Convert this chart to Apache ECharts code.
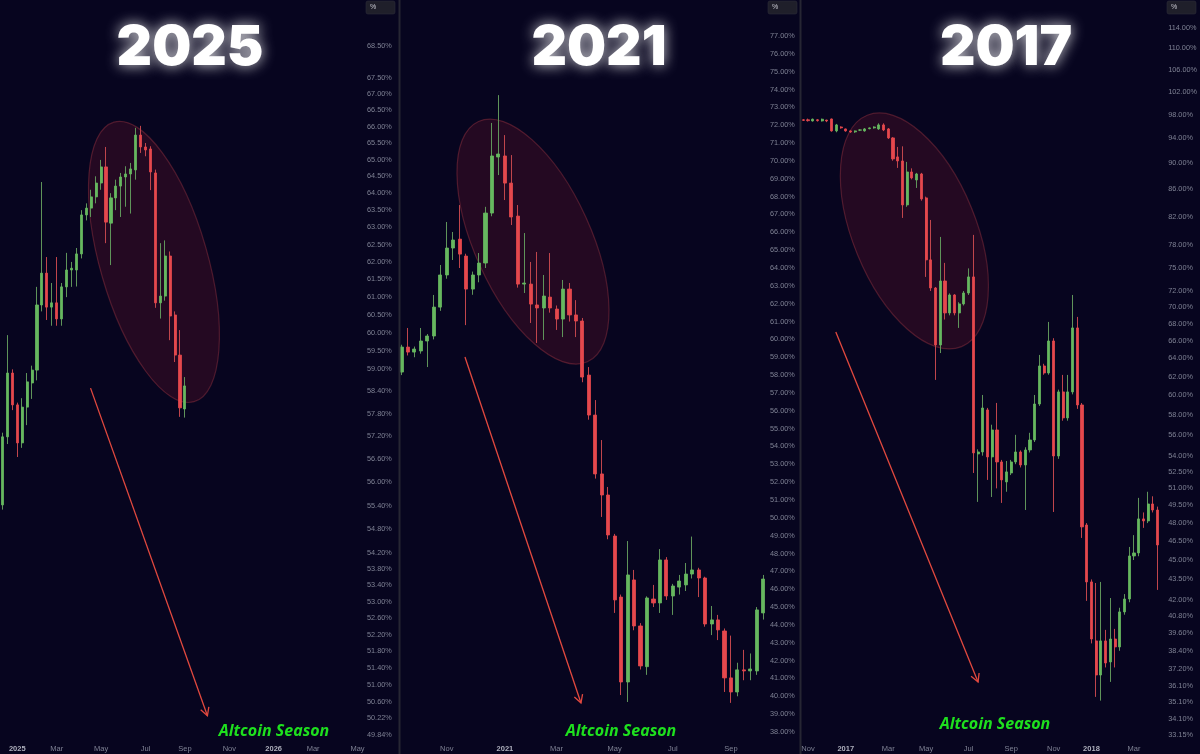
<!DOCTYPE html>
<html><head><meta charset="utf-8">
<script src="https://cdn.jsdelivr.net/npm/echarts@6/dist/echarts.min.js"></script>
<style>html,body{margin:0;padding:0;background:#07051f;overflow:hidden}#c{width:1200px;height:754px}</style>
</head><body><div id="c"></div>
<script>
// ---------- data ----------
const panelTitles = ['2025', '2021', '2017'];
const noteText = 'Altcoin Season';
const p1Start = '2024-12-16', p1Weeks = 73;
const p2Start = '2020-09-14', p2Weeks = 57;
const p3Start = '2016-10-31', p3Weeks = 77;
const monthNames = ['Jan','Feb','Mar','Apr','May','Jun','Jul','Aug','Sep','Oct','Nov','Dec'];

// weekly candles [open, close, low, high] (%)
const p1Candles = [
[55.42,57.19,55.30,57.30],[57.19,58.90,57.00,59.94],[58.90,58.04,57.90,59.00],[58.04,57.03,56.66,58.10],
[57.03,57.98,56.90,58.22],[57.98,58.66,57.50,58.90],[58.63,58.98,58.20,59.10],[58.98,60.78,58.70,61.29],
[60.78,61.68,60.60,64.33],[61.68,60.72,60.36,62.14],[60.72,60.84,60.20,61.40],[60.84,60.39,60.20,62.14],
[60.39,61.29,60.20,61.40],[61.29,61.77,61.00,62.26],[61.77,61.82,61.29,62.00],[61.77,62.23,61.30,62.40],
[62.23,63.36,62.10,63.50],[63.36,63.56,63.20,63.70],[63.56,63.89,63.30,64.10],[63.89,64.30,63.70,64.50],
[64.30,64.78,64.10,64.99],[64.78,63.15,62.54,65.38],[63.12,63.86,61.91,64.00],[63.86,64.21,63.50,64.40],
[64.21,64.48,63.30,64.60],[64.48,64.57,63.60,64.80],[64.57,64.72,63.40,64.90],[64.69,65.74,64.40,65.96],
[65.74,65.38,65.20,66.02],[65.38,65.29,65.10,65.50],[65.32,64.63,64.09,65.40],[64.60,60.84,60.70,64.70],
[60.84,61.03,60.40,62.54],[61.03,62.17,60.90,62.62],[62.17,60.47,59.80,62.30],[60.50,59.39,59.20,60.60],
[59.39,57.96,57.72,60.08],[57.93,58.55,57.70,58.79]
];
const p2Candles = [
[58.17,59.57,58.00,59.70],[59.57,59.29,59.10,60.64],[59.29,59.46,59.00,59.60],[59.35,59.91,59.20,60.64],
[59.91,60.19,58.45,60.30],[60.19,61.81,60.00,62.49],[61.81,63.61,61.60,64.17],[63.61,65.12,63.40,66.58],
[65.12,65.57,64.45,66.02],[65.62,64.78,64.00,67.53],[64.67,62.82,60.80,64.80],[62.82,63.61,62.50,63.80],
[63.61,64.28,63.20,64.84],[64.28,67.08,64.00,67.43],[67.08,70.28,66.90,72.13],[70.22,70.39,69.21,73.69],
[70.28,68.76,67.81,71.45],[68.76,66.86,66.41,70.33],[66.91,63.10,62.90,67.53],[63.10,63.16,62.60,65.96],
[63.10,61.98,60.92,64.34],[61.93,61.76,59.80,64.90],[61.76,62.43,59.97,63.61],[62.37,61.76,61.50,64.84],
[61.70,61.14,60.53,61.90],[61.14,62.82,60.13,63.33],[62.82,61.37,61.00,63.16],[61.37,61.03,60.13,62.20],
[61.03,57.89,57.60,61.20],[58.00,55.76,55.50,58.45],[55.76,52.46,52.20,56.60],[52.46,51.28,50.05,54.36],
[51.28,49.04,48.80,51.73],[48.98,45.40,44.67,49.10],[45.56,40.80,40.07,45.70],[40.80,46.80,39.68,48.70],
[46.52,43.94,43.70,47.08],[43.94,41.70,41.50,44.10],[41.66,45.51,41.20,45.60],[45.45,45.23,45.00,46.24],
[45.23,47.64,44.67,48.25],[47.64,45.62,45.40,47.80],[45.62,46.18,44.56,46.30],[46.12,46.46,45.70,46.80],
[46.24,46.85,45.90,47.47],[46.85,47.08,46.60,48.95],[47.08,46.63,45.56,47.20],[46.63,44.05,43.90,46.70],
[44.05,44.28,43.43,45.06],[44.28,43.72,43.15,44.56],[43.66,41.03,40.24,43.80],[41.03,40.24,39.63,43.40],
[40.24,41.48,40.00,41.88],[41.48,41.42,40.90,42.60],[41.42,41.53,40.90,42.40],[41.42,44.84,41.20,45.00],
[44.67,46.57,44.30,46.80]
];
const p3Candles = [
[97.10,97.00,96.90,97.20],[97.10,96.95,96.80,97.30],[96.90,97.20,96.80,97.30],[97.10,96.95,96.80,97.20],
[96.90,97.20,96.80,97.30],[97.05,96.90,96.70,97.10],[97.24,95.23,95.10,97.30],[95.23,96.23,95.00,96.40],
[95.89,95.73,95.60,96.00],[95.56,95.23,95.10,95.60],[95.23,95.06,94.90,95.30],[95.06,95.23,94.90,95.30],
[95.35,95.40,95.20,95.50],[95.23,95.56,95.10,95.70],[95.60,95.73,95.50,95.80],[95.73,95.89,95.60,96.00],
[95.56,96.23,95.40,96.50],[96.23,95.39,95.20,96.50],[95.56,94.07,93.90,95.70],[94.07,90.68,90.40,94.20],
[91.00,90.36,89.27,92.60],[90.36,83.68,81.80,92.70],[83.68,88.64,83.40,90.21],[88.64,87.72,87.50,89.20],
[87.41,88.33,86.20,88.50],[88.33,84.56,84.30,88.50],[84.71,76.02,73.79,84.90],[76.02,72.38,72.00,81.51],
[72.38,65.52,61.64,72.50],[65.52,73.27,64.60,79.13],[73.27,69.29,68.50,75.62],[69.29,71.50,69.00,71.70],
[71.50,69.29,69.00,71.60],[69.29,70.39,67.50,70.60],[70.39,71.75,70.20,72.00],[71.75,73.79,71.50,74.90],
[73.79,54.26,52.39,79.41],[54.16,54.35,49.81,54.60],[54.35,58.69,54.00,60.04],[58.49,53.88,51.76,58.70],
[53.88,56.48,50.24,57.00],[56.48,53.41,51.00,59.21],[53.41,51.76,49.72,53.60],[51.58,52.49,50.70,53.50],
[52.39,53.41,52.20,53.60],[53.41,54.35,53.20,56.00],[54.35,53.13,52.90,54.50],[53.13,54.54,49.11,54.80],
[54.54,55.50,54.30,56.20],[55.50,59.10,55.30,60.04],[59.10,63.16,58.90,64.39],[63.16,62.39,62.20,63.40],
[62.39,65.98,62.20,68.21],[65.98,53.97,48.94,66.30],[53.97,60.36,53.70,60.60],[60.36,57.68,57.40,62.18],
[57.68,60.36,57.40,62.18],[60.36,67.50,60.10,71.50],[67.50,59.00,58.60,68.81],[59.00,47.68,46.77,59.20],
[47.84,43.31,41.90,48.00],[43.31,39.20,38.90,43.50],[39.07,36.81,35.43,43.23],[36.81,39.07,35.20,43.31],
[39.07,37.59,37.30,39.83],[37.66,39.20,36.37,42.11],[39.20,38.66,37.30,39.90],[38.66,41.10,38.40,41.40],
[41.10,42.04,40.90,42.40],[42.04,45.32,41.80,46.04],[45.32,45.56,45.00,47.00],[45.56,48.35,45.30,50.16],
[48.35,48.18,47.60,48.90],[48.18,49.63,48.00,50.70],[49.63,49.11,48.90,50.30],[49.11,46.20,42.71,49.40]
];

// price-scale tick labels (%)
const p1Ticks = [68.5,67.5,67,66.5,66,65.5,65,64.5,64,63.5,63,62.5,62,61.5,61,60.5,60,59.5,59,58.4,57.8,57.2,56.6,56,55.4,54.8,54.2,53.8,53.4,53,52.6,52.2,51.8,51.4,51,50.6,50.22,49.84];
const p2Ticks = [77,76,75,74,73,72,71,70,69,68,67,66,65,64,63,62,61,60,59,58,57,56,55,54,53,52,51,50,49,48,47,46,45,44,43,42,41,40,39,38];
const p3Ticks = [114,110,106,102,98,94,90,86,82,78,75,72,70,68,66,64,62,60,58,56,54,52.5,51,49.5,48,46.5,45,43.5,42,40.8,39.6,38.4,37.2,36.1,35.1,34.1,33.15];
// visible price ranges (%)
const p1Range = [49.72, 69.97];
const p2Range = [37.55, 79.02];
const p3Range = [32.86, 119.7];

// annotation anchors [week index, %]
const p1Arrow = [[17.86,58.49],[41.56,50.28]], p1Ellipse = [30.72,62.0];
const p2Arrow = [[9.82,59.01],[27.78,39.62]], p2Ellipse = [20.35,65.48];
const p3Arrow = [[6.89,67.03],[37.0,36.37]], p3Ellipse = [23.52,79.96];

// ---------- helpers ----------
function weeks(start, n){
  const out=[]; const t0=Date.parse(start+'T00:00:00Z');
  for(let k=0;k<n;k++){ out.push(new Date(t0+k*7*864e5).toISOString().slice(0,10)); }
  return out;
}
const tf  = [Math.log, v=>v, Math.log];
const inv = [Math.exp, v=>v, Math.exp];
const G='#66b85f', R='#e5484d', WG='#5f945a', WR='#c0454c';
const AX='#7f8294';

const grids = [
  {left:-3.4, top:0, width:363.4, height:740},
  {left:398.3, top:0, width:368.2, height:740},
  {left:800.9, top:0, width:365.75, height:740}
];
const cats = [weeks(p1Start,p1Weeks), weeks(p2Start,p2Weeks), weeks(p3Start,p3Weeks)];
const ranges = [p1Range,p2Range,p3Range];
const ticks = [p1Ticks,p2Ticks,p3Ticks];
const candles = [p1Candles,p2Candles,p3Candles];
const labelMargins = [7,3.5,3.5];
const bodyW = [2.6,3.6,2.6];

function xAxisFor(gi){
  return {type:'category', gridIndex:gi, data:cats[gi], boundaryGap:true,
    axisLine:{show:false}, axisTick:{show:false}, splitLine:{show:false},
    axisLabel:{
      interval:(i,v)=>{const d=new Date(v+'T00:00:00Z'); return d.getUTCDate()<=7 && d.getUTCMonth()%2===0;},
      formatter:(v)=>{const d=new Date(v+'T00:00:00Z'); const m=d.getUTCMonth(); return m===0?('{y|'+d.getUTCFullYear()+'}'):monthNames[m];},
      color:AX, fontSize:7.5, margin:5, fontFamily:'Liberation Sans',
      rich:{y:{fontWeight:'bold', color:'#aeb0bd', fontSize:7.5, fontFamily:'Liberation Sans'}}
    }};
}
function yAxisFor(gi){
  const f=tf[gi], g=inv[gi];
  return {type:'value', gridIndex:gi, position:'right', min:f(ranges[gi][0]), max:f(ranges[gi][1]),
    axisLine:{show:false}, axisTick:{show:false}, splitLine:{show:false},
    axisLabel:{customValues:ticks[gi].map(f), formatter:v=>g(v).toFixed(2)+'%',
      color:AX, fontSize:7.3, margin:labelMargins[gi], fontFamily:'Liberation Sans', showMinLabel:true, showMaxLabel:true}};
}
function seriesFor(gi){
  const f=tf[gi], rows=candles[gi];
  return [
    {type:'candlestick', xAxisIndex:gi, yAxisIndex:gi, barWidth:1, z:3,
      data:rows.map(r=>[f(r[0]),f(r[1]),f(r[2]),f(r[3])]),
      itemStyle:{color:WG,color0:WR,borderColor:WG,borderColor0:WR,borderWidth:1}},
    {type:'candlestick', xAxisIndex:gi, yAxisIndex:gi, barWidth:bodyW[gi], z:4,
      data:rows.map(r=>[f(r[0]),f(r[1]),f(Math.min(r[0],r[1])),f(Math.max(r[0],r[1]))]),
      itemStyle:{color:G,color0:R,borderColor:G,borderColor0:R,borderWidth:0.8}}
  ];
}

const titleCenters = [[185,16],[594,16],[1001,16]];
const noteCenters = [[269,718],[616,718],[990,711]];
const titles = [];
panelTitles.forEach((t,i)=>titles.push({text:t, left:titleCenters[i][0], top:titleCenters[i][1], textAlign:'center',
  textStyle:{color:'#ffffff', fontSize:55, fontWeight:900, fontFamily:'Inter',
    textShadowColor:'rgba(255,255,255,0.85)', textShadowBlur:14}}));
noteCenters.forEach(c=>titles.push({text:noteText, left:c[0], top:c[1], textAlign:'center',
  textStyle:{color:'#1ee01e', fontSize:16, fontWeight:'bold', fontStyle:'italic', fontFamily:'Open Sans'}}));

const chart = echarts.init(document.getElementById('c'), null, {renderer:'canvas'});
const option = {
  backgroundColor:'#07051f', animation:false,
  title:titles,
  grid:grids,
  xAxis:[0,1,2].map(xAxisFor),
  yAxis:[0,1,2].map(yAxisFor),
  series:[].concat(seriesFor(0),seriesFor(1),seriesFor(2))
};
chart.setOption(option);

// ---------- annotations ----------
function px(gi, pt){
  const i0=Math.floor(pt[0]), fr=pt[0]-i0;
  const a=chart.convertToPixel({xAxisIndex:gi,yAxisIndex:gi},[i0, tf[gi](pt[1])]);
  const b=chart.convertToPixel({xAxisIndex:gi,yAxisIndex:gi},[i0+1, tf[gi](pt[1])]);
  return [a[0]+fr*(b[0]-a[0]), a[1]];
}
const arrows=[p1Arrow,p2Arrow,p3Arrow], ellipses=[p1Ellipse,p2Ellipse,p3Ellipse];
const ellSize=[[53.8,145.4,16.0],[58.2,131.9,24.4],[61.6,124.9,22.2]];
const graphics=[];
[0,1,2].forEach(gi=>{
  const c=px(gi,ellipses[gi]); const s=ellSize[gi];
  graphics.push({type:'ellipse', x:c[0], y:c[1], rotation:s[2]*Math.PI/180, z:1,
    shape:{cx:0,cy:0,rx:s[0],ry:s[1]},
    style:{fill:'rgba(125,22,45,0.25)', stroke:'rgba(150,50,65,0.45)', lineWidth:1.2}});
  const p=px(gi,arrows[gi][0]), q=px(gi,arrows[gi][1]);
  graphics.push({type:'line', z:5, shape:{x1:p[0],y1:p[1],x2:q[0],y2:q[1]}, style:{stroke:'#e2493f', lineWidth:1.3}});
  const dx=q[0]-p[0], dy=q[1]-p[1], L=Math.hypot(dx,dy), ux=-dx/L, uy=-dy/L, hl=9, an=0.5;
  const l1=[q[0]+hl*(ux*Math.cos(an)-uy*Math.sin(an)), q[1]+hl*(ux*Math.sin(an)+uy*Math.cos(an))];
  const l2=[q[0]+hl*(ux*Math.cos(-an)-uy*Math.sin(-an)), q[1]+hl*(ux*Math.sin(-an)+uy*Math.cos(-an))];
  graphics.push({type:'polyline', z:5, shape:{points:[l1,q,l2]}, style:{stroke:'#e2493f', lineWidth:1.3, fill:null}});
});
// panel dividers and "%" scale badges
[398.5, 799.5].forEach(x=>graphics.push({type:'rect', z:6, shape:{x:x,y:0,width:2,height:754}, style:{fill:'#262633'}}));
[366, 768, 1167].forEach(x=>{
  graphics.push({type:'rect', z:6, shape:{x:x,y:1,width:29,height:13,r:2}, style:{fill:'#1f1f2a', stroke:'#2e2e3a', lineWidth:0.6}});
  graphics.push({type:'text', z:7, x:x+4, y:4, style:{text:'%', fill:'#c9c9d2', font:'7px "Liberation Sans"'}});
});
chart.setOption({graphic:graphics});
</script>
</body></html>
